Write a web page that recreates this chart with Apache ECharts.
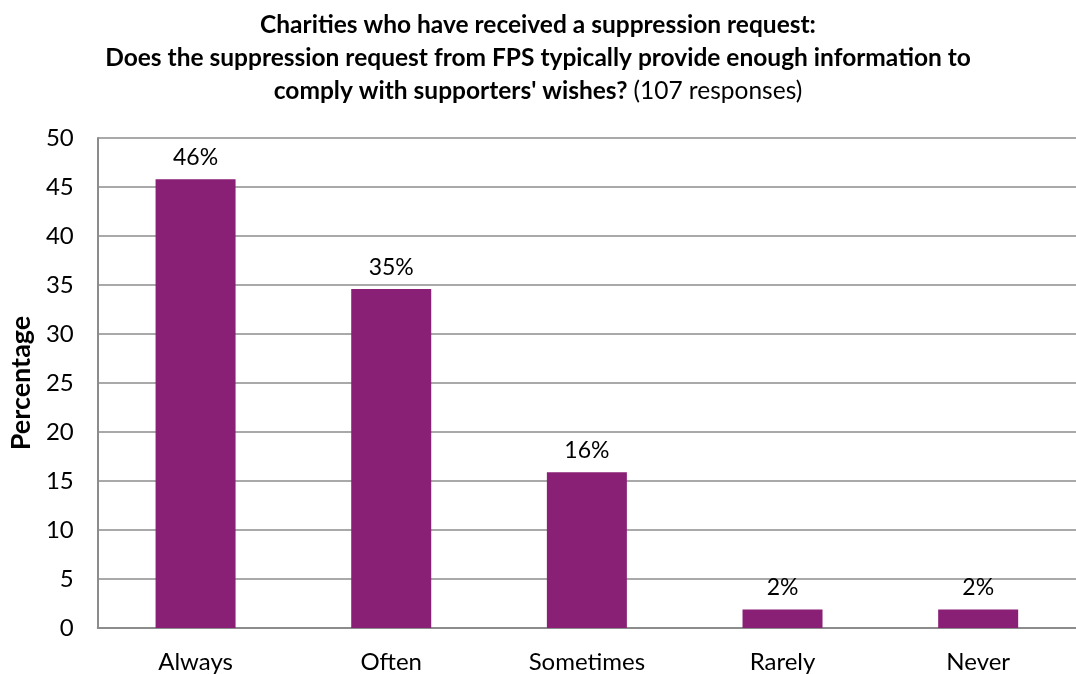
<!DOCTYPE html>
<html>
<head>
<meta charset="utf-8">
<script src="https://cdn.jsdelivr.net/npm/echarts@6/dist/echarts.min.js"></script>
<style>
  html, body { margin: 0; padding: 0; background: #fff; }
  #chart { width: 1076px; height: 674px; }
</style>
</head>
<body>
<div id="chart"></div>
<script>
// Survey answers (share of 107 responses, %)
const categories = ['Always', 'Often', 'Sometimes', 'Rarely', 'Never'];
const percentages = [45.8, 34.6, 15.9, 1.9, 1.9];
const yTicks = { min: 0, max: 50, interval: 5 };

const FONT = 'Lato, "Open Sans", sans-serif';

const chart = echarts.init(document.getElementById('chart'));
chart.setOption({
  backgroundColor: '#fff',
  animation: false,
  title: {
    text: '{b|Charities who have received a suppression request:}\n' +
          '{b|Does the suppression request from FPS typically provide enough information to}\n' +
          '{b|comply with supporters\' wishes?} {n|(107 responses)}',
    left: 'center',
    top: 4,
    textStyle: {
      fontFamily: FONT,
      fontSize: 24.5,
      lineHeight: 33,
      color: '#000',
      rich: {
        b: { fontFamily: FONT, fontSize: 24.5, fontWeight: 'bold', color: '#000', lineHeight: 33 },
        n: { fontFamily: FONT, fontSize: 24.5, fontWeight: 'normal', color: '#000', lineHeight: 33 }
      }
    }
  },
  grid: { left: 96, right: -14, top: 138, bottom: 45, containLabel: false },
  xAxis: {
    type: 'category',
    data: categories,
    axisLine: { show: true, lineStyle: { color: '#8c8c8c', width: 2 } },
    axisTick: { show: false },
    axisLabel: { fontFamily: FONT, fontSize: 24, color: '#000', margin: 22 }
  },
  yAxis: {
    type: 'value',
    min: yTicks.min,
    max: yTicks.max,
    interval: yTicks.interval,
    name: 'Percentage',
    nameLocation: 'middle',
    nameGap: 62,
    nameTextStyle: { fontFamily: FONT, fontSize: 27, fontWeight: 'bold', color: '#000' },
    axisLine: { show: true, lineStyle: { color: '#8c8c8c', width: 2 } },
    axisTick: { show: false },
    axisLabel: { fontFamily: FONT, fontSize: 24, color: '#000', margin: 24 },
    splitLine: { show: true, lineStyle: { color: '#8c8c8c', width: 1.5 } }
  },
  series: [{
    type: 'bar',
    data: percentages,
    barWidth: 80,
    itemStyle: { color: '#8A1F76' },
    label: {
      show: true,
      position: 'top',
      distance: 10,
      fontFamily: FONT,
      fontSize: 23,
      color: '#000',
      formatter: p => Math.round(p.value) + '%'
    }
  }]
});
</script>
</body>
</html>
